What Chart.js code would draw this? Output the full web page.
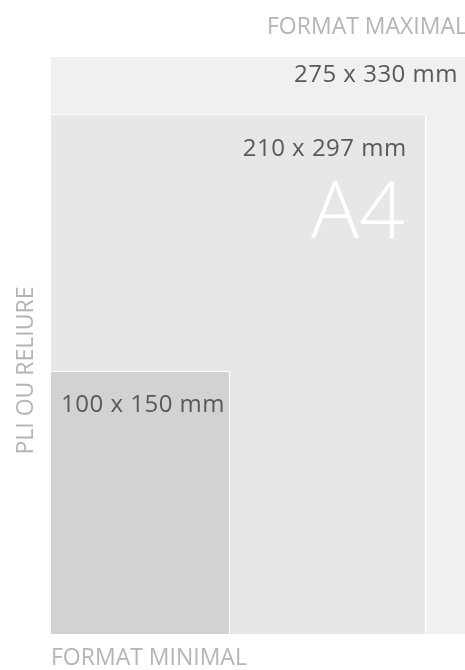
<!DOCTYPE html>
<html><head><meta charset="utf-8">
<script src="https://cdn.jsdelivr.net/npm/chart.js@4/dist/chart.umd.min.js"></script>
<style>html,body{margin:0;padding:0;background:#fff;}canvas{display:block;}</style>
</head><body>
<canvas id="c" width="465" height="670"></canvas>
<script>
// ---- data ----
const formatLabels = ['275 x 330 mm', '210 x 297 mm', '100 x 150 mm'];
const widthsMm = [275, 210, 100];
const heightsMm = [330, 297, 150];
const fillColors = ['#f0f0f0', '#e6e7e8', '#d1d2d4'];
const bigLabel = 'A4';
const xAxisTitle = 'FORMAT MINIMAL';
const yAxisTitle = 'PLI OU RELIURE';
const topTitle = 'FORMAT MAXIMAL';
const xMaxMm = 232;
const yMaxMm = 330;

const FONT = '"Open Sans", "DejaVu Sans", sans-serif';
const TITLE_COLOR = '#b3b5b7';
const LABEL_COLOR = '#58595b';

const datasets = widthsMm.map((w, i) => ({
  label: formatLabels[i],
  data: [{x: 0, y: heightsMm[i]}, {x: w, y: heightsMm[i]}, {x: w, y: 0}],
  fill: 'origin',
  backgroundColor: fillColors[i],
  borderColor: '#ffffff',
  borderWidth: 1,
  pointRadius: 0,
  tension: 0,
  order: widthsMm.length - i
}));

const labelPlugin = {
  id: 'formatLabels',
  afterDatasetsDraw(chart) {
    const {ctx, chartArea, scales: {x, y}} = chart;
    ctx.save();
    ctx.textBaseline = 'alphabetic';
    ctx.fillStyle = LABEL_COLOR;
    ctx.font = '400 24px ' + FONT;
    if ('letterSpacing' in ctx) ctx.letterSpacing = '0.5px';
    // maximal format
    const r0 = Math.min(x.getPixelForValue(widthsMm[0]), chartArea.right);
    ctx.textAlign = 'right';
    ctx.fillText(formatLabels[0], r0 - 7, y.getPixelForValue(heightsMm[0]) + 25);
    // A4
    const r1 = x.getPixelForValue(widthsMm[1]);
    const t1 = y.getPixelForValue(heightsMm[1]);
    ctx.fillText(formatLabels[1], r1 - 19, t1 + 42);
    // minimal
    ctx.textAlign = 'left';
    ctx.fillText(formatLabels[2], x.getPixelForValue(0) + 10, y.getPixelForValue(heightsMm[2]) + 40);
    if ('letterSpacing' in ctx) ctx.letterSpacing = '0px';
    // big A4
    ctx.fillStyle = '#ffffff';
    ctx.font = '300 80px ' + FONT;
    ctx.textAlign = 'right';
    ctx.fillText(bigLabel, r1 - 21, t1 + 124);
    // top title (runs past the canvas edge)
    ctx.fillStyle = TITLE_COLOR;
    ctx.font = '400 23px ' + FONT;
    ctx.textAlign = 'left';
    ctx.fillText(topTitle, chartArea.right - 198, chartArea.top - 23);
    // vertical title
    ctx.save();
    ctx.translate(chartArea.left - 25, chartArea.top + 314);
    ctx.rotate(-Math.PI / 2);
    ctx.textAlign = 'center';
    ctx.textBaseline = 'middle';
    ctx.fillText(yAxisTitle, 0, 0);
    ctx.restore();
    ctx.restore();
  }
};

new Chart(document.getElementById('c'), {
  type: 'line',
  data: {datasets},
  options: {
    responsive: false,
    animation: false,
    events: [],
    layout: {padding: {top: 56.5, right: 0, bottom: 0, left: 51}},
    plugins: {legend: {display: false}, tooltip: {enabled: false}},
    scales: {
      x: {
        type: 'linear', min: 0, max: xMaxMm,
        ticks: {display: false},
        grid: {display: false, drawTicks: false},
        border: {display: false},
        title: {display: true, text: xAxisTitle, align: 'start', color: TITLE_COLOR,
          font: {family: FONT, size: 23, weight: '400', lineHeight: 1},
          padding: {top: 13, bottom: 0}}
      },
      y: {
        type: 'linear', min: 0, max: yMaxMm,
        display: false
      }
    }
  },
  plugins: [labelPlugin]
});
</script>
</body></html>
